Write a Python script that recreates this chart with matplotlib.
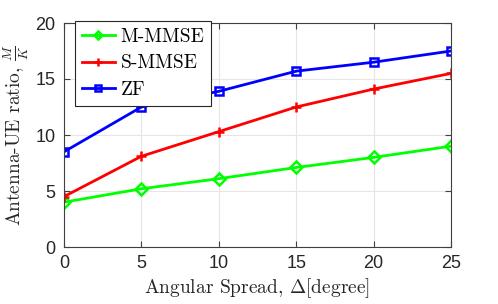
import matplotlib
matplotlib.use("Agg")
import matplotlib.pyplot as plt

spread = [0, 5, 10, 15, 20, 25]
m_mmse = [4.0, 5.2, 6.1, 7.1, 8.0, 9.0]
s_mmse = [4.5, 8.1, 10.3, 12.5, 14.1, 15.5]
zf = [8.5, 12.5, 13.9, 15.7, 16.5, 17.5]
xticks = [0, 5, 10, 15, 20, 25]
yticks = [0, 5, 10, 15, 20]

plt.rcParams['mathtext.fontset'] = 'cm'

fig = plt.figure(figsize=(4.98, 3.04), dpi=100)
ax = fig.add_axes([64/498, 1-247/304, (451-64)/498, (247-23)/304])

ax.plot(spread, m_mmse, color='#00ff00', lw=2, marker='D', ms=6, mfc='none', mew=1.8, label='M-MMSE')
ax.plot(spread, s_mmse, color='#ff0000', lw=2, marker='+', ms=7, mew=1.8, label='S-MMSE')
ax.plot(spread, zf, color='#0000ff', lw=2, marker='s', ms=5.5, mfc='none', mew=1.8, label='ZF')

ax.set_xlim(0, 25)
ax.set_ylim(0, 20)
ax.set_xticks(xticks)
ax.set_yticks(yticks)
ax.grid(True, color='#e6e6e6', lw=0.8)
ax.set_axisbelow(True)
for s in ax.spines.values():
    s.set_color('#404040')
    s.set_linewidth(0.8)
ax.tick_params(direction='in', top=True, right=True, length=4, width=0.8, color='#404040',
               labelsize=13, pad=6)
for lbl in ax.get_xticklabels() + ax.get_yticklabels():
    lbl.set_fontfamily('Liberation Sans')
    lbl.set_color('#262626')

ax.set_xlabel(r'Angular Spread, $\Delta$[degree]', fontfamily='cmr10', fontsize=14, color='#262626', labelpad=3)
ax.set_ylabel(r'Antenna-UE ratio, $\frac{M}{K}$', fontfamily='cmr10', fontsize=14, color='#262626', labelpad=3)

leg = ax.legend(loc='upper left', bbox_to_anchor=(75/498, 1-21/304), bbox_transform=fig.transFigure,
                prop={'family': 'cmr10', 'size': 14}, frameon=True, fancybox=False, framealpha=1,
                edgecolor='#262626', handlelength=1.7, borderpad=0.35, labelspacing=0.45,
                handletextpad=0.3, borderaxespad=0, markerscale=0.75)
leg.get_frame().set_linewidth(0.8)

fig.savefig('out.png', dpi=100)
